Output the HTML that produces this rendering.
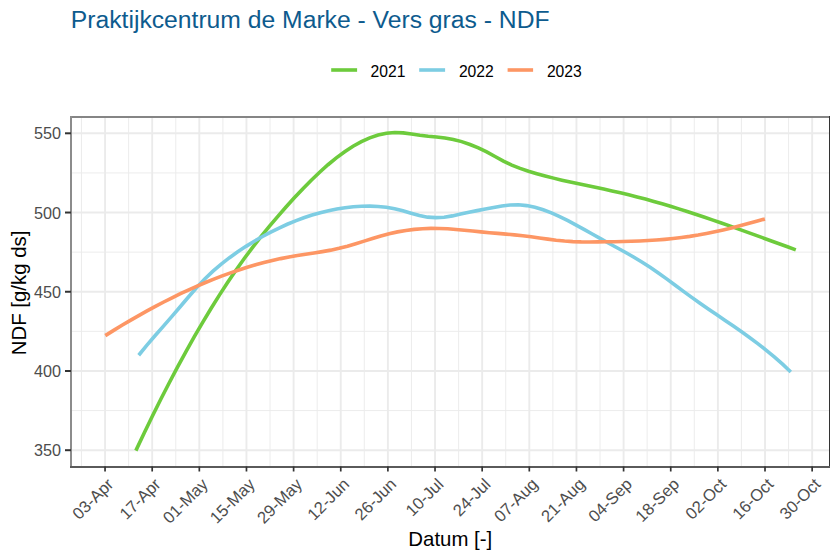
<!DOCTYPE html>
<html><head><meta charset="utf-8"><style>
html,body{margin:0;padding:0;background:#fff;}
svg{display:block;}
text{font-family:"Liberation Sans",sans-serif;}
</style></head><body>
<svg width="840" height="560" viewBox="0 0 840 560">
<rect width="840" height="560" fill="#fff"/>
<line x1="71.0" x2="829.5" y1="410.59" y2="410.59" stroke="#ebebeb" stroke-width="0.95"/>
<line x1="71.0" x2="829.5" y1="331.36" y2="331.36" stroke="#ebebeb" stroke-width="0.95"/>
<line x1="71.0" x2="829.5" y1="252.14" y2="252.14" stroke="#ebebeb" stroke-width="0.95"/>
<line x1="71.0" x2="829.5" y1="172.91" y2="172.91" stroke="#ebebeb" stroke-width="0.95"/>
<line y1="117.0" y2="466.5" x1="81.48" x2="81.48" stroke="#ebebeb" stroke-width="0.95"/>
<line y1="117.0" y2="466.5" x1="128.62" x2="128.62" stroke="#ebebeb" stroke-width="0.95"/>
<line y1="117.0" y2="466.5" x1="175.76" x2="175.76" stroke="#ebebeb" stroke-width="0.95"/>
<line y1="117.0" y2="466.5" x1="222.90" x2="222.90" stroke="#ebebeb" stroke-width="0.95"/>
<line y1="117.0" y2="466.5" x1="270.04" x2="270.04" stroke="#ebebeb" stroke-width="0.95"/>
<line y1="117.0" y2="466.5" x1="317.18" x2="317.18" stroke="#ebebeb" stroke-width="0.95"/>
<line y1="117.0" y2="466.5" x1="364.32" x2="364.32" stroke="#ebebeb" stroke-width="0.95"/>
<line y1="117.0" y2="466.5" x1="411.46" x2="411.46" stroke="#ebebeb" stroke-width="0.95"/>
<line y1="117.0" y2="466.5" x1="458.60" x2="458.60" stroke="#ebebeb" stroke-width="0.95"/>
<line y1="117.0" y2="466.5" x1="505.74" x2="505.74" stroke="#ebebeb" stroke-width="0.95"/>
<line y1="117.0" y2="466.5" x1="552.88" x2="552.88" stroke="#ebebeb" stroke-width="0.95"/>
<line y1="117.0" y2="466.5" x1="600.02" x2="600.02" stroke="#ebebeb" stroke-width="0.95"/>
<line y1="117.0" y2="466.5" x1="647.16" x2="647.16" stroke="#ebebeb" stroke-width="0.95"/>
<line y1="117.0" y2="466.5" x1="694.30" x2="694.30" stroke="#ebebeb" stroke-width="0.95"/>
<line y1="117.0" y2="466.5" x1="741.44" x2="741.44" stroke="#ebebeb" stroke-width="0.95"/>
<line y1="117.0" y2="466.5" x1="788.58" x2="788.58" stroke="#ebebeb" stroke-width="0.95"/>
<line x1="71.0" x2="829.5" y1="450.20" y2="450.20" stroke="#ebebeb" stroke-width="1.9"/>
<line x1="71.0" x2="829.5" y1="370.98" y2="370.98" stroke="#ebebeb" stroke-width="1.9"/>
<line x1="71.0" x2="829.5" y1="291.75" y2="291.75" stroke="#ebebeb" stroke-width="1.9"/>
<line x1="71.0" x2="829.5" y1="212.53" y2="212.53" stroke="#ebebeb" stroke-width="1.9"/>
<line x1="71.0" x2="829.5" y1="133.30" y2="133.30" stroke="#ebebeb" stroke-width="1.9"/>
<line y1="117.0" y2="466.5" x1="105.05" x2="105.05" stroke="#ebebeb" stroke-width="1.9"/>
<line y1="117.0" y2="466.5" x1="152.19" x2="152.19" stroke="#ebebeb" stroke-width="1.9"/>
<line y1="117.0" y2="466.5" x1="199.33" x2="199.33" stroke="#ebebeb" stroke-width="1.9"/>
<line y1="117.0" y2="466.5" x1="246.47" x2="246.47" stroke="#ebebeb" stroke-width="1.9"/>
<line y1="117.0" y2="466.5" x1="293.61" x2="293.61" stroke="#ebebeb" stroke-width="1.9"/>
<line y1="117.0" y2="466.5" x1="340.75" x2="340.75" stroke="#ebebeb" stroke-width="1.9"/>
<line y1="117.0" y2="466.5" x1="387.89" x2="387.89" stroke="#ebebeb" stroke-width="1.9"/>
<line y1="117.0" y2="466.5" x1="435.03" x2="435.03" stroke="#ebebeb" stroke-width="1.9"/>
<line y1="117.0" y2="466.5" x1="482.17" x2="482.17" stroke="#ebebeb" stroke-width="1.9"/>
<line y1="117.0" y2="466.5" x1="529.31" x2="529.31" stroke="#ebebeb" stroke-width="1.9"/>
<line y1="117.0" y2="466.5" x1="576.45" x2="576.45" stroke="#ebebeb" stroke-width="1.9"/>
<line y1="117.0" y2="466.5" x1="623.59" x2="623.59" stroke="#ebebeb" stroke-width="1.9"/>
<line y1="117.0" y2="466.5" x1="670.73" x2="670.73" stroke="#ebebeb" stroke-width="1.9"/>
<line y1="117.0" y2="466.5" x1="717.87" x2="717.87" stroke="#ebebeb" stroke-width="1.9"/>
<line y1="117.0" y2="466.5" x1="765.01" x2="765.01" stroke="#ebebeb" stroke-width="1.9"/>
<line y1="117.0" y2="466.5" x1="812.15" x2="812.15" stroke="#ebebeb" stroke-width="1.9"/>
<path d="M135.85,450.64 L144.20,433.01 L152.56,415.82 L160.91,399.07 L169.27,382.78 L177.62,366.94 L185.97,351.59 L194.33,336.72 L202.68,322.34 L211.03,308.47 L219.39,295.12 L227.74,282.29 L236.10,270.01 L244.45,258.27 L252.80,247.09 L261.16,236.42 L269.51,226.19 L277.86,216.34 L286.22,206.79 L294.57,197.55 L302.93,188.66 L311.28,180.20 L319.63,172.20 L327.99,164.74 L336.34,157.89 L344.69,151.70 L353.05,146.25 L361.40,141.61 L369.76,137.85 L378.11,135.03 L386.46,133.22 L394.82,132.50 L403.17,132.85 L411.53,133.91 L419.88,135.18 L428.23,136.21 L436.59,136.97 L444.94,137.91 L453.29,139.45 L461.65,141.63 L470.00,144.46 L478.36,147.89 L486.71,151.92 L495.06,156.49 L503.42,161.12 L511.77,165.12 L520.12,168.39 L528.48,171.18 L536.83,173.68 L545.19,175.99 L553.54,178.13 L561.89,180.13 L570.25,182.02 L578.60,183.83 L586.96,185.60 L595.31,187.35 L603.66,189.11 L612.02,190.92 L620.37,192.80 L628.72,194.79 L637.08,196.89 L645.43,199.10 L653.79,201.41 L662.14,203.81 L670.49,206.30 L678.85,208.87 L687.20,211.52 L695.55,214.24 L703.91,217.02 L712.26,219.85 L720.62,222.73 L728.97,225.66 L737.32,228.62 L745.68,231.62 L754.03,234.63 L762.38,237.67 L770.74,240.71 L779.09,243.76 L787.45,246.81 L795.80,249.85" fill="none" stroke="#6dcb3c" stroke-width="3.6"/>
<path d="M138.70,355.25 L146.95,345.12 L155.21,335.48 L163.46,326.08 L171.72,316.67 L179.97,307.02 L188.23,297.24 L196.48,287.78 L204.74,279.06 L212.99,271.21 L221.24,264.12 L229.50,257.69 L237.75,251.80 L246.01,246.36 L254.26,241.28 L262.52,236.52 L270.77,232.10 L279.03,228.02 L287.28,224.27 L295.53,220.87 L303.79,217.81 L312.04,215.09 L320.30,212.72 L328.55,210.70 L336.81,209.04 L345.06,207.73 L353.32,206.78 L361.57,206.24 L369.82,206.11 L378.08,206.43 L386.33,207.26 L394.59,208.66 L402.84,210.72 L411.10,213.22 L419.35,215.58 L427.61,217.17 L435.86,217.67 L444.11,217.20 L452.37,215.89 L460.62,214.06 L468.88,212.19 L477.13,210.61 L485.39,209.07 L493.64,207.43 L501.89,205.96 L510.15,204.99 L518.40,204.81 L526.66,205.61 L534.91,207.30 L543.17,209.77 L551.42,212.89 L559.68,216.55 L567.93,220.64 L576.18,225.04 L584.44,229.63 L592.69,234.30 L600.95,238.94 L609.20,243.47 L617.46,247.97 L625.71,252.53 L633.97,257.25 L642.22,262.22 L650.47,267.54 L658.73,273.22 L666.98,279.16 L675.24,285.24 L683.49,291.36 L691.75,297.40 L700.00,303.28 L708.26,308.99 L716.51,314.60 L724.76,320.19 L733.02,325.81 L741.27,331.53 L749.53,337.43 L757.78,343.58 L766.04,350.03 L774.29,356.87 L782.55,364.15 L790.80,371.94" fill="none" stroke="#7dcde3" stroke-width="3.6"/>
<path d="M105.30,335.60 L113.65,330.39 L122.00,325.32 L130.35,320.38 L138.70,315.57 L147.05,310.90 L155.40,306.38 L163.75,302.01 L172.09,297.79 L180.44,293.73 L188.79,289.82 L197.14,286.08 L205.49,282.51 L213.84,279.11 L222.19,275.89 L230.54,272.85 L238.89,269.99 L247.24,267.32 L255.59,264.85 L263.94,262.57 L272.29,260.49 L280.64,258.61 L288.99,256.94 L297.34,255.48 L305.68,254.18 L314.03,252.93 L322.38,251.62 L330.73,250.14 L339.08,248.36 L347.43,246.20 L355.78,243.73 L364.13,241.10 L372.48,238.46 L380.83,235.94 L389.18,233.71 L397.53,231.87 L405.88,230.42 L414.23,229.36 L422.58,228.68 L430.93,228.38 L439.27,228.44 L447.62,228.82 L455.97,229.44 L464.32,230.21 L472.67,231.06 L481.02,231.91 L489.37,232.68 L497.72,233.40 L506.07,234.12 L514.42,234.88 L522.77,235.74 L531.12,236.75 L539.47,237.91 L547.82,239.10 L556.17,240.19 L564.52,241.06 L572.86,241.61 L581.21,241.88 L589.56,241.95 L597.91,241.90 L606.26,241.81 L614.61,241.68 L622.96,241.51 L631.31,241.27 L639.66,240.95 L648.01,240.53 L656.36,240.00 L664.71,239.34 L673.06,238.53 L681.41,237.55 L689.76,236.40 L698.11,235.05 L706.45,233.50 L714.80,231.78 L723.15,229.91 L731.50,227.90 L739.85,225.78 L748.20,223.57 L756.55,221.29 L764.90,218.97" fill="none" stroke="#fd9664" stroke-width="3.6"/>
<rect x="70" y="116" width="760" height="2" fill="#858585"/>
<rect x="70" y="116" width="2" height="352" fill="#8c8c8c"/>
<rect x="829" y="116" width="1" height="352" fill="#333333"/>
<rect x="70" y="466" width="760" height="2" fill="#5a5a5a"/>
<line x1="65.0" x2="71.0" y1="450.20" y2="450.20" stroke="#333333" stroke-width="2"/>
<line x1="65.0" x2="71.0" y1="370.98" y2="370.98" stroke="#333333" stroke-width="2"/>
<line x1="65.0" x2="71.0" y1="291.75" y2="291.75" stroke="#333333" stroke-width="2"/>
<line x1="65.0" x2="71.0" y1="212.53" y2="212.53" stroke="#333333" stroke-width="2"/>
<line x1="65.0" x2="71.0" y1="133.30" y2="133.30" stroke="#333333" stroke-width="2"/>
<line y1="466.5" y2="471.5" x1="105.05" x2="105.05" stroke="#333333" stroke-width="1.7"/>
<line y1="466.5" y2="471.5" x1="152.19" x2="152.19" stroke="#333333" stroke-width="1.7"/>
<line y1="466.5" y2="471.5" x1="199.33" x2="199.33" stroke="#333333" stroke-width="1.7"/>
<line y1="466.5" y2="471.5" x1="246.47" x2="246.47" stroke="#333333" stroke-width="1.7"/>
<line y1="466.5" y2="471.5" x1="293.61" x2="293.61" stroke="#333333" stroke-width="1.7"/>
<line y1="466.5" y2="471.5" x1="340.75" x2="340.75" stroke="#333333" stroke-width="1.7"/>
<line y1="466.5" y2="471.5" x1="387.89" x2="387.89" stroke="#333333" stroke-width="1.7"/>
<line y1="466.5" y2="471.5" x1="435.03" x2="435.03" stroke="#333333" stroke-width="1.7"/>
<line y1="466.5" y2="471.5" x1="482.17" x2="482.17" stroke="#333333" stroke-width="1.7"/>
<line y1="466.5" y2="471.5" x1="529.31" x2="529.31" stroke="#333333" stroke-width="1.7"/>
<line y1="466.5" y2="471.5" x1="576.45" x2="576.45" stroke="#333333" stroke-width="1.7"/>
<line y1="466.5" y2="471.5" x1="623.59" x2="623.59" stroke="#333333" stroke-width="1.7"/>
<line y1="466.5" y2="471.5" x1="670.73" x2="670.73" stroke="#333333" stroke-width="1.7"/>
<line y1="466.5" y2="471.5" x1="717.87" x2="717.87" stroke="#333333" stroke-width="1.7"/>
<line y1="466.5" y2="471.5" x1="765.01" x2="765.01" stroke="#333333" stroke-width="1.7"/>
<line y1="466.5" y2="471.5" x1="812.15" x2="812.15" stroke="#333333" stroke-width="1.7"/>
<text x="61" y="456.20" text-anchor="end" font-size="16.2" fill="#4d4d4d">350</text>
<text x="61" y="376.98" text-anchor="end" font-size="16.2" fill="#4d4d4d">400</text>
<text x="61" y="297.75" text-anchor="end" font-size="16.2" fill="#4d4d4d">450</text>
<text x="61" y="218.53" text-anchor="end" font-size="16.2" fill="#4d4d4d">500</text>
<text x="61" y="139.30" text-anchor="end" font-size="16.2" fill="#4d4d4d">550</text>
<text transform="translate(106.75,477.5) rotate(-45)" x="0" y="11" text-anchor="end" font-size="16.6" fill="#4d4d4d">03-Apr</text>
<text transform="translate(153.89,477.5) rotate(-45)" x="0" y="11" text-anchor="end" font-size="16.6" fill="#4d4d4d">17-Apr</text>
<text transform="translate(201.03,477.5) rotate(-45)" x="0" y="11" text-anchor="end" font-size="16.6" fill="#4d4d4d">01-May</text>
<text transform="translate(248.17,477.5) rotate(-45)" x="0" y="11" text-anchor="end" font-size="16.6" fill="#4d4d4d">15-May</text>
<text transform="translate(295.31,477.5) rotate(-45)" x="0" y="11" text-anchor="end" font-size="16.6" fill="#4d4d4d">29-May</text>
<text transform="translate(342.45,477.5) rotate(-45)" x="0" y="11" text-anchor="end" font-size="16.6" fill="#4d4d4d">12-Jun</text>
<text transform="translate(389.59,477.5) rotate(-45)" x="0" y="11" text-anchor="end" font-size="16.6" fill="#4d4d4d">26-Jun</text>
<text transform="translate(436.73,477.5) rotate(-45)" x="0" y="11" text-anchor="end" font-size="16.6" fill="#4d4d4d">10-Jul</text>
<text transform="translate(483.87,477.5) rotate(-45)" x="0" y="11" text-anchor="end" font-size="16.6" fill="#4d4d4d">24-Jul</text>
<text transform="translate(531.01,477.5) rotate(-45)" x="0" y="11" text-anchor="end" font-size="16.6" fill="#4d4d4d">07-Aug</text>
<text transform="translate(578.15,477.5) rotate(-45)" x="0" y="11" text-anchor="end" font-size="16.6" fill="#4d4d4d">21-Aug</text>
<text transform="translate(625.29,477.5) rotate(-45)" x="0" y="11" text-anchor="end" font-size="16.6" fill="#4d4d4d">04-Sep</text>
<text transform="translate(672.43,477.5) rotate(-45)" x="0" y="11" text-anchor="end" font-size="16.6" fill="#4d4d4d">18-Sep</text>
<text transform="translate(719.57,477.5) rotate(-45)" x="0" y="11" text-anchor="end" font-size="16.6" fill="#4d4d4d">02-Oct</text>
<text transform="translate(766.71,477.5) rotate(-45)" x="0" y="11" text-anchor="end" font-size="16.6" fill="#4d4d4d">16-Oct</text>
<text transform="translate(813.85,477.5) rotate(-45)" x="0" y="11" text-anchor="end" font-size="16.6" fill="#4d4d4d">30-Oct</text>
<text x="450.25" y="545.7" text-anchor="middle" font-size="20.4" fill="#000">Datum [-]</text>
<text transform="translate(25.7,292.9) rotate(-90)" x="0" y="0" text-anchor="middle" font-size="20.4" fill="#000">NDF [g/kg ds]</text>
<text x="70.8" y="28.4" font-size="24.7" fill="#0d5b8e">Praktijkcentrum de Marke - Vers gras - NDF</text>
<line x1="331.2" x2="357.1" y1="70" y2="70" stroke="#6dcb3c" stroke-width="3.6"/>
<text x="370.5" y="77.0" font-size="15.7" fill="#000">2021</text>
<line x1="419.2" x2="445.1" y1="70" y2="70" stroke="#7dcde3" stroke-width="3.6"/>
<text x="458.9" y="77.0" font-size="15.7" fill="#000">2022</text>
<line x1="507.6" x2="533.1" y1="70" y2="70" stroke="#fd9664" stroke-width="3.6"/>
<text x="546.9" y="77.0" font-size="15.7" fill="#000">2023</text>
</svg>
</body></html>
